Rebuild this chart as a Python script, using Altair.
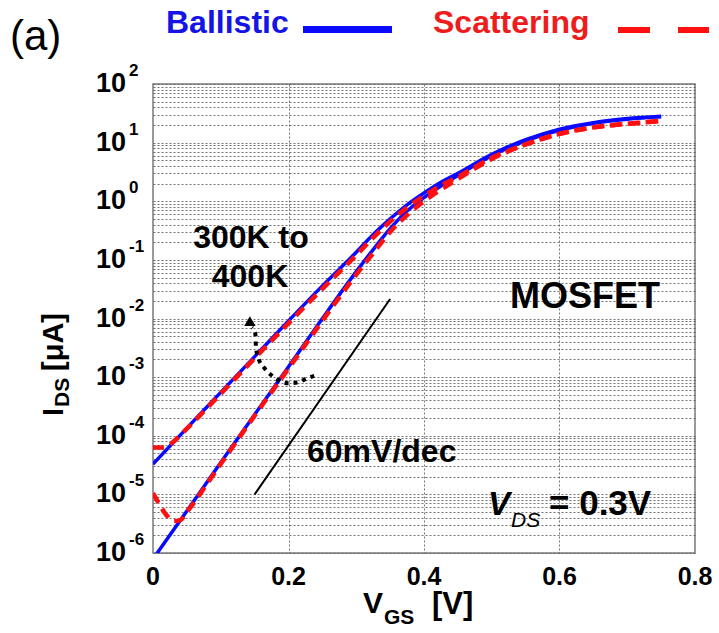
import altair as alt
import pandas as pd

FONT = "Liberation Sans"

# ---------------- data ----------------
vgs = [0.0, 0.05, 0.10, 0.15, 0.20, 0.25, 0.30, 0.325, 0.35, 0.375, 0.40, 0.425, 0.45,
       0.50, 0.55, 0.60, 0.65, 0.70, 0.75]
ids_ballistic_300k = [7.9e-7, 5.2e-6, 3.5e-5, 2.3e-4, 1.5e-3, 1.0e-2, 6.3e-2, 0.15, 0.34, 0.68, 1.15, 1.82, 2.75,
                      6.0, 10.7, 16.2, 21.4, 25.1, 27.5]
ids_ballistic_400k = [3.3e-5, 1.35e-4, 5.5e-4, 2.24e-3, 9.1e-3, 3.6e-2, 0.135, 0.27, 0.50, 0.87, 1.38, 2.1, 3.0,
                      6.3, 11.2, 17.0, 21.9, 25.7, 28.2]

vgs_scatter_300k = [0.0, 0.01, 0.02, 0.03, 0.04, 0.05, 0.10, 0.15, 0.20, 0.25, 0.30, 0.325, 0.35, 0.375,
                    0.40, 0.425, 0.45, 0.50, 0.55, 0.60, 0.65, 0.70, 0.75]
ids_scatter_300k = [1.05e-5, 6.6e-6, 4.4e-6, 3.5e-6, 3.6e-6, 5.0e-6, 3.3e-5, 2.2e-4, 1.4e-3, 9.1e-3, 5.6e-2, 0.13, 0.30, 0.58,
                    1.0, 1.58, 2.4, 5.25, 9.3, 14.1, 18.2, 20.9, 23.4]

vgs_scatter_400k = [0.0, 0.01, 0.02, 0.03, 0.05, 0.10, 0.15, 0.20, 0.25, 0.30, 0.325, 0.35, 0.375,
                    0.40, 0.425, 0.45, 0.50, 0.55, 0.60, 0.65, 0.70, 0.75]
ids_scatter_400k = [6.3e-5, 6.3e-5, 6.5e-5, 7.9e-5, 1.32e-4, 5.2e-4, 2.1e-3, 8.3e-3, 3.2e-2, 0.12, 0.24, 0.45, 0.78,
                    1.23, 1.86, 2.6, 5.5, 9.3, 14.1, 18.2, 20.9, 23.4]

# 60 mV/dec reference line
slope_vgs = [0.15, 0.35]
slope_ids = [1.0e-5, 2.15e-2]

# dotted "300K to 400K" arrow
arrow_vgs = [0.238, 0.227, 0.213, 0.200, 0.188, 0.176, 0.165, 0.155, 0.152, 0.151, 0.146]
arrow_ids = [1.05e-3, 9.5e-4, 8.1e-4, 7.9e-4, 8.5e-4, 1.05e-3, 1.4e-3, 2.2e-3, 3.2e-3, 5.6e-3, 7.0e-3]
arrow_head_vgs = [0.143]
arrow_head_ids = [9.0e-3]

x_tick_values = [0.0, 0.2, 0.4, 0.6, 0.8]
x_tick_labels = ["0", "0.2", "0.4", "0.6", "0.8"]
y_tick_values = [1e2, 1e1, 1e0, 1e-1, 1e-2, 1e-3, 1e-4, 1e-5, 1e-6]
y_tick_exponents = ["2", "1", "0", "-1", "-2", "-3", "-4", "-5", "-6"]

# ---------------- scales / axes ----------------
W, H = 542, 469
xs = alt.Scale(domain=[0, 0.8], nice=False, zero=False)
ys = alt.Scale(type="log", domain=[1e-6, 1e2], nice=False)

y_grid_values = [k * 10.0 ** e for e in range(-6, 2) for k in range(1, 10)] + [100.0]
GRID = dict(grid=True, labels=False, ticks=False, domain=False, title=None,
            gridDash=[2, 2], gridColor="#5a5a5a", gridWidth=1, gridOpacity=0.85)
xaxis = alt.Axis(values=[0.2, 0.4, 0.6], **GRID)
yaxis = alt.Axis(values=y_grid_values, **GRID)


def X(field="vgs"):
    return alt.X(f"{field}:Q", scale=xs, axis=xaxis)


def Y(field="ids"):
    return alt.Y(f"{field}:Q", scale=ys, axis=yaxis)


def curve(xv, yv, color, width, dash=None):
    df = pd.DataFrame({"vgs": xv, "ids": yv})
    kw = dict(color=color, strokeWidth=width, clip=True, interpolate="monotone")
    if dash:
        kw["strokeDash"] = dash
    return alt.Chart(df).mark_line(**kw).encode(x=X(), y=Y())


def label(text, x, y, size, align="left", baseline="alphabetic", weight="bold",
          color="black", style="normal", angle=0):
    df = pd.DataFrame({"t": [text]})
    kw = dict(font=FONT, fontSize=size, align=align, baseline=baseline,
              fontWeight=weight, color=color, fontStyle=style)
    if angle:
        kw["angle"] = angle
    return alt.Chart(df).mark_text(**kw).encode(
        x=alt.value(x), y=alt.value(y), text="t:N")


BLUE = "#0a0aff"
RED = "#ff1010"

layers = []
# curves
layers.append(curve(vgs, ids_ballistic_400k, BLUE, 3.5))
layers.append(curve(vgs, ids_ballistic_300k, BLUE, 3.5))
layers.append(curve(vgs_scatter_400k, ids_scatter_400k, RED, 4.5, [11, 7]))
layers.append(curve(vgs_scatter_300k, ids_scatter_300k, RED, 4.5, [11, 7]))

# 60 mV/dec line
layers.append(alt.Chart(pd.DataFrame({"vgs": slope_vgs, "ids": slope_ids}))
              .mark_line(color="black", strokeWidth=2).encode(x=X(), y=Y()))
# dotted arrow
layers.append(alt.Chart(pd.DataFrame({"vgs": arrow_vgs, "ids": arrow_ids, "o": list(range(len(arrow_vgs)))}))
              .mark_line(color="black", strokeWidth=4, strokeDash=[4, 5], interpolate="monotone")
              .encode(x=X(), y=Y(), order="o:Q"))
layers.append(alt.Chart(pd.DataFrame({"vgs": arrow_head_vgs, "ids": arrow_head_ids}))
              .mark_point(shape="triangle-up", filled=True, color="black", size=130, opacity=1)
              .encode(x=X(), y=Y()))

# y tick labels 10^n
ydf = pd.DataFrame({"ids": y_tick_values, "e": y_tick_exponents, "b": ["10"] * len(y_tick_values)})
layers.append(alt.Chart(ydf).mark_text(font=FONT, fontSize=27, fontWeight="bold", align="right",
                                       baseline="middle", color="black")
              .encode(x=alt.value(-27), y=Y(), text="b:N"))
layers.append(alt.Chart(ydf).mark_text(font=FONT, fontSize=17, fontWeight="bold", align="left",
                                       baseline="alphabetic", dy=-8, color="black")
              .encode(x=alt.value(-24), y=Y(), text="e:N"))

# x tick labels
xdf = pd.DataFrame({"vgs": x_tick_values, "t": x_tick_labels})
layers.append(alt.Chart(xdf).mark_text(font=FONT, fontSize=25, fontWeight="bold", align="center",
                                       baseline="alphabetic", color="black")
              .encode(x=X(), y=alt.value(H + 32), text="t:N"))

# axis titles
layers.append(label("V", 210, 529, 30))
layers.append(label("GS", 231, 540, 21))
layers.append(label("[V]", 279, 530, 31))

layers.append(label("I", -90, 332, 29, angle=270))
layers.append(label("DS", -84, 323, 21, angle=270))
layers.append(label("[μA]", -90, 287, 29, angle=270))

# annotations
layers.append(label("300K to", 98, 164, 32, align="center"))
layers.append(label("400K", 97, 203, 32, align="center"))
layers.append(label("60mV/dec", 154, 378, 32))
layers.append(label("MOSFET", 357, 224, 36))
layers.append(label("V", 335, 431, 33, style="italic"))
layers.append(label("DS", 358, 443, 21, style="italic", weight="normal"))
layers.append(label("= 0.3V", 396, 431, 35))

# header: panel tag and legend
layers.append(label("(a)", -143, -34, 42, weight="normal"))
layers.append(label("Ballistic", 13, -51, 32, color="#1414e6"))
layers.append(label("Scattering", 280, -51, 32, color="#ee1c1c"))
one = pd.DataFrame({"a": [0]})
layers.append(alt.Chart(one).mark_rule(color=BLUE, strokeWidth=7)
              .encode(x=alt.value(150), x2=alt.value(239), y=alt.value(-54.5)))
layers.append(alt.Chart(one).mark_rule(color=RED, strokeWidth=6, strokeDash=[32, 28])
              .encode(x=alt.value(465), x2=alt.value(556), y=alt.value(-54)))

chart = (alt.layer(*layers)
         .properties(width=W, height=H,
                     padding={"left": 153, "top": 84, "right": 24, "bottom": 80},
                     autosize=alt.AutoSizeParams(type="none"),
                     background="white")
         .configure_view(stroke="#7a7a7a", strokeWidth=1.5))

chart.save("out.html", embed_options={"renderer": "svg", "actions": False})
